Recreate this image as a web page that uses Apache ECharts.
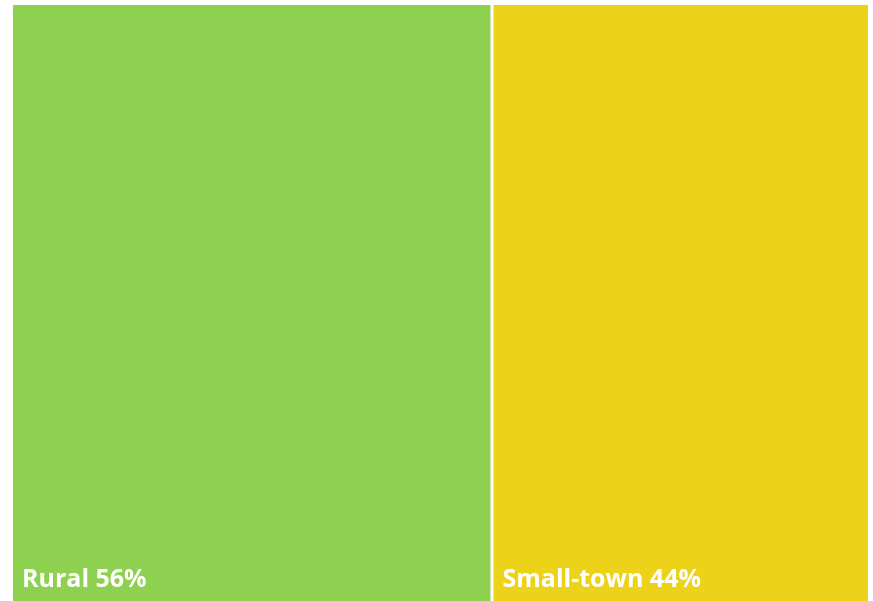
<!DOCTYPE html>
<html>
<head>
<meta charset="utf-8">
<script src="https://cdn.jsdelivr.net/npm/echarts@6/dist/echarts.min.js"></script>
<style>
  html, body { margin: 0; padding: 0; background: #ffffff; }
  #chart { width: 873px; height: 601px; }
</style>
</head>
<body>
<div id="chart"></div>
<script>
// Share of residents by community type
const categories = ['Rural', 'Small-town'];
const shares = [56, 44];
const colors = ['#8ed04f', '#edd21a'];

const chart = echarts.init(document.getElementById('chart'), null, { renderer: 'canvas' });

const data = categories.map((name, i) => ({
  name: name,
  value: shares[i],
  itemStyle: { color: colors[i] }
}));

chart.setOption({
  animation: false,
  series: [{
    type: 'treemap',
    left: 13,
    top: 5,
    width: 855,
    height: 596,
    roam: false,
    nodeClick: false,
    breadcrumb: { show: false },
    squareRatio: 1,
    levels: [{
      itemStyle: { gapWidth: 3, borderWidth: 0, borderColor: '#ffffff' }
    }],
    label: {
      show: true,
      position: 'insideBottomLeft',
      distance: 4,
      color: '#ffffff',
      fontFamily: 'Open Sans',
      fontWeight: 'bold',
      fontSize: 25,
      formatter: p => p.name + ' ' + p.value + '%'
    },
    upperLabel: { show: false },
    data: data
  }]
});
</script>
</body>
</html>
